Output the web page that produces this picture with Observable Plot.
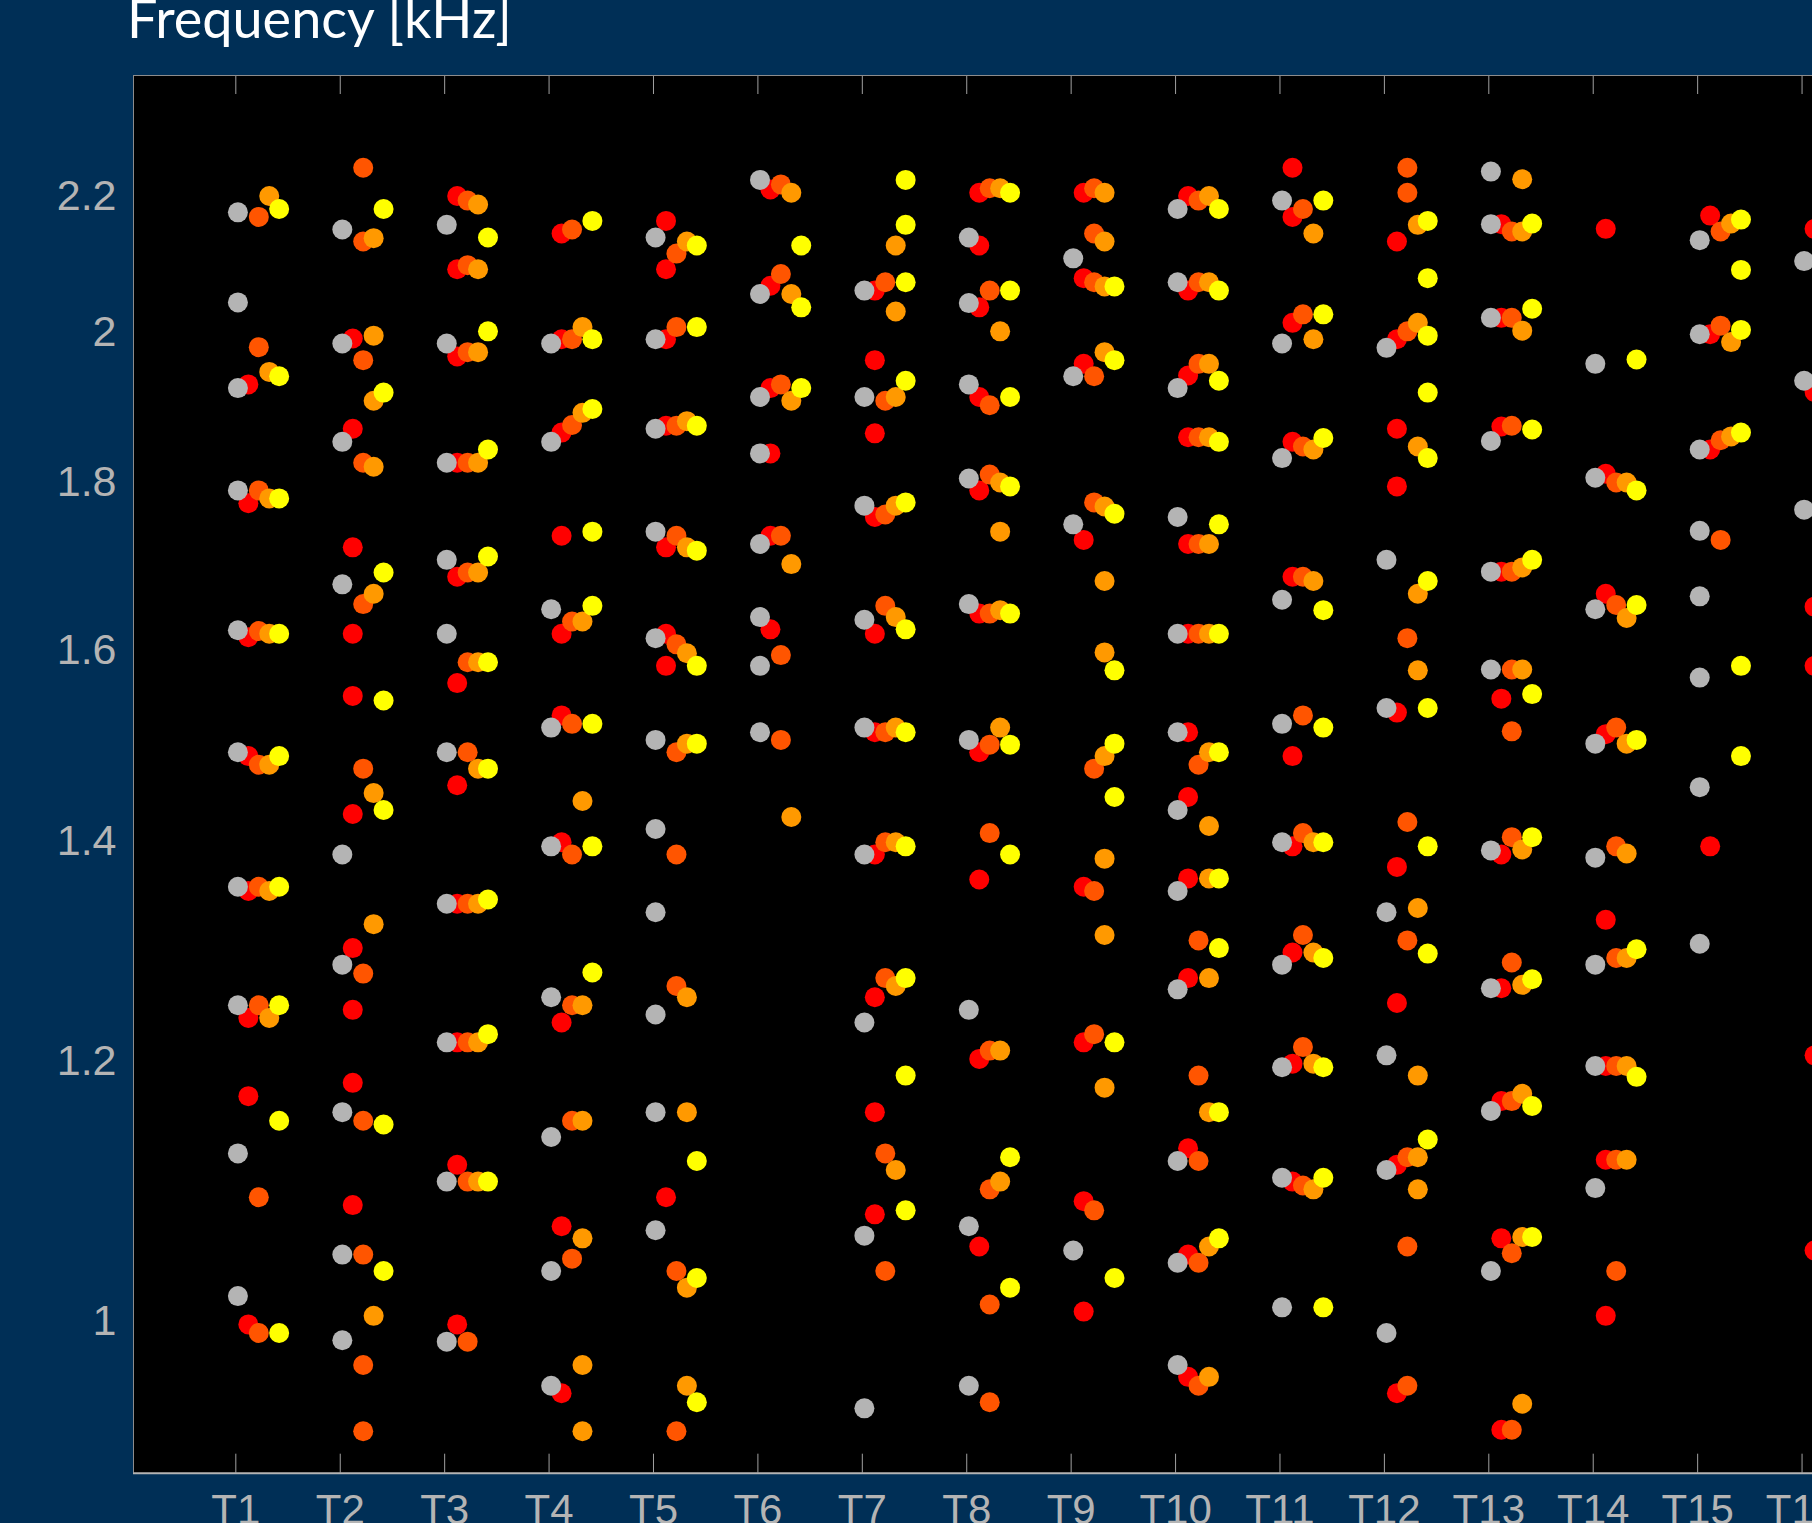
<!DOCTYPE html>
<html><head><meta charset="utf-8">
<script src="https://cdn.jsdelivr.net/npm/d3@7"></script>
<script src="https://cdn.jsdelivr.net/npm/@observablehq/plot@0.6"></script>
<style>
html,body{margin:0;padding:0;background:#002f56;width:1812px;height:1523px;overflow:hidden;}
#wrap{position:relative;width:1812px;height:1523px;}
#chart{position:absolute;left:0;top:0;}
#title{position:absolute;left:0;top:0;}
</style></head><body>
<div id="wrap">
<div id="chart"></div>
<svg id="title" width="760" height="75"><text x="127" y="38" fill="#ffffff" font-family="Lato, 'Open Sans', sans-serif" font-size="54">Frequency [kHz]</text></svg>
</div>
<script>
// Categories (test points)
const categories = ["T1","T2","T3","T4","T5","T6","T7","T8","T9","T10","T11","T12","T13","T14","T15","T16"];
const yTickValues = [1, 1.2, 1.4, 1.6, 1.8, 2, 2.2];

// Frequencies in kHz, one inner list per category
const grey = [
  [2.175, 2.042, 1.923, 1.79, 1.623, 1.49, 1.356, 1.248, 1.125, 1.018],
  [2.149, 1.984, 1.852, 1.676, 1.387, 1.284, 1.158, 1.048, 0.987],
  [2.156, 1.984, 1.825, 1.705, 1.619, 1.49, 1.34, 1.216, 1.103, 0.986],
  [1.984, 1.852, 1.647, 1.516, 1.395, 1.255, 1.138, 1.036, 0.956],
  [2.137, 1.99, 1.869, 1.739, 1.614, 1.503, 1.412, 1.332, 1.24, 1.158, 1.066],
  [2.225, 2.054, 1.911, 1.837, 1.724, 1.638, 1.583, 1.511],
  [2.059, 1.911, 1.771, 1.635, 1.516, 1.387, 1.233, 1.062, 0.941],
  [2.137, 2.041, 1.928, 1.805, 1.653, 1.503, 1.244, 1.069, 0.956],
  [2.106, 1.939, 1.748, 1.051],
  [2.18, 2.071, 1.923, 1.757, 1.619, 1.511, 1.431, 1.352, 1.262, 1.119, 1.042, 0.97],
  [2.193, 1.984, 1.831, 1.658, 1.52, 1.399, 1.284, 1.195, 1.106, 1.01],
  [1.978, 1.705, 1.537, 1.332, 1.205, 1.112, 0.992],
  [2.238, 2.157, 2.02, 1.853, 1.691, 1.579, 1.391, 1.263, 1.159, 1.036],
  [1.956, 1.806, 1.647, 1.499, 1.384, 1.284, 1.196, 1.098],
  [2.133, 1.997, 1.842, 1.74, 1.662, 1.57, 1.454, 1.303],
  [2.102, 1.933, 1.766]
];
const red = [
  [1.928, 1.774, 1.615, 1.486, 1.352, 1.237, 1.171, 0.998],
  [1.991, 1.869, 1.72, 1.619, 1.55, 1.427, 1.299, 1.244, 1.182, 1.085],
  [2.2, 2.09, 1.966, 1.825, 1.685, 1.564, 1.456, 1.34, 1.216, 1.116, 0.998],
  [2.143, 1.99, 1.864, 1.734, 1.619, 1.529, 1.399, 1.233, 1.069, 0.951],
  [2.162, 2.09, 1.99, 1.873, 1.72, 1.619, 1.583, 1.091],
  [2.21, 2.066, 1.923, 1.837, 1.734, 1.624],
  [2.059, 1.961, 1.863, 1.757, 1.619, 1.511, 1.387, 1.255, 1.158, 1.078],
  [2.205, 2.125, 2.035, 1.911, 1.79, 1.642, 1.49, 1.363, 1.202, 1.054],
  [2.205, 2.077, 1.956, 1.729, 1.356, 1.216, 1.088, 1.007],
  [2.2, 2.059, 1.94, 1.858, 1.724, 1.619, 1.511, 1.444, 1.364, 1.272, 1.129, 1.048, 0.962],
  [2.244, 2.168, 2.013, 1.852, 1.685, 1.486, 1.395, 1.295, 1.198, 1.103],
  [2.131, 1.99, 1.869, 1.795, 1.532, 1.375, 1.25, 1.116, 0.951],
  [2.157, 2.02, 1.872, 1.691, 1.547, 1.387, 1.263, 1.167, 1.06, 0.927],
  [2.15, 1.811, 1.665, 1.509, 1.325, 1.196, 1.12, 1.004],
  [2.17, 1.997, 1.842, 1.395],
  [2.15, 1.918, 1.65, 1.583, 1.205, 1.051]
];
const orangeRed = [
  [2.168, 1.979, 1.79, 1.622, 1.477, 1.356, 1.248, 1.091, 0.992],
  [2.244, 2.131, 1.961, 1.825, 1.653, 1.473, 1.276, 1.151, 1.048, 0.97, 0.926],
  [2.193, 2.096, 1.972, 1.825, 1.69, 1.587, 1.49, 1.34, 1.216, 1.103, 0.986],
  [2.149, 1.99, 1.874, 1.633, 1.52, 1.387, 1.248, 1.151, 1.045],
  [2.113, 2.007, 1.873, 1.734, 1.607, 1.49, 1.387, 1.265, 1.036, 0.926],
  [2.218, 2.083, 1.928, 1.734, 1.595, 1.503],
  [2.071, 1.906, 1.76, 1.651, 1.511, 1.399, 1.272, 1.125, 1.036],
  [2.212, 2.059, 1.9, 1.81, 1.642, 1.498, 1.408, 1.209, 1.097, 1.012, 0.945],
  [2.212, 2.143, 2.071, 1.939, 1.775, 1.473, 1.352, 1.223, 1.081],
  [2.193, 2.071, 1.956, 1.858, 1.724, 1.619, 1.477, 1.306, 1.188, 1.119, 1.042, 0.956],
  [2.18, 2.025, 1.846, 1.685, 1.529, 1.408, 1.311, 1.212, 1.10],
  [2.244, 2.205, 2.001, 1.614, 1.419, 1.306, 1.122, 1.054, 0.956],
  [2.146, 2.02, 1.873, 1.691, 1.579, 1.512, 1.404, 1.286, 1.167, 1.049, 0.927],
  [1.80, 1.652, 1.516, 1.395, 1.29, 1.196, 1.12, 1.036],
  [2.146, 2.009, 1.854, 1.729],
  []
];
const orange = [
  [2.2, 1.945, 1.78, 1.619, 1.477, 1.352, 1.237],
  [2.136, 1.995, 1.906, 1.82, 1.665, 1.448, 1.321, 1.004],
  [2.187, 2.09, 1.972, 1.825, 1.69, 1.587, 1.473, 1.34, 1.216, 1.103],
  [2.007, 1.89, 1.633, 1.44, 1.248, 1.151, 1.06, 0.97, 0.926],
  [2.131, 1.879, 1.72, 1.597, 1.499, 1.255, 1.158, 1.024, 0.956],
  [2.205, 2.054, 1.906, 1.70, 1.424],
  [2.125, 2.029, 1.911, 1.771, 1.638, 1.516, 1.399, 1.265, 1.112],
  [2.212, 2.001, 1.80, 1.739, 1.646, 1.516, 1.209, 1.103],
  [2.205, 2.131, 2.065, 1.972, 1.77, 1.68, 1.598, 1.486, 1.383, 1.311, 1.178],
  [2.2, 2.071, 1.956, 1.858, 1.724, 1.619, 1.49, 1.415, 1.364, 1.272, 1.158, 1.054, 0.962],
  [2.143, 1.99, 1.842, 1.68, 1.399, 1.295, 1.198, 1.097],
  [2.156, 2.013, 1.846, 1.665, 1.578, 1.336, 1.188, 1.122, 1.097],
  [2.226, 2.146, 2.002, 1.696, 1.579, 1.392, 1.266, 1.173, 1.061, 0.944],
  [1.80, 1.637, 1.499, 1.388, 1.29, 1.196, 1.12],
  [2.158, 1.986, 1.859],
  []
];
const yellow = [
  [2.18, 1.939, 1.78, 1.619, 1.486, 1.356, 1.248, 1.151, 0.992],
  [2.18, 1.917, 1.69, 1.545, 1.431, 1.148, 1.036],
  [2.137, 2.001, 1.842, 1.709, 1.587, 1.473, 1.344, 1.223, 1.103],
  [2.162, 1.99, 1.895, 1.739, 1.651, 1.52, 1.395, 1.277],
  [2.125, 2.007, 1.873, 1.716, 1.583, 1.499, 1.119, 1.031, 0.945],
  [2.125, 2.035, 1.923],
  [2.225, 2.156, 2.071, 1.933, 1.775, 1.624, 1.511, 1.395, 1.272, 1.188, 1.081],
  [2.205, 2.059, 1.911, 1.795, 1.642, 1.498, 1.387, 1.122, 1.024],
  [2.065, 1.961, 1.761, 1.578, 1.499, 1.444, 1.216, 1.031],
  [2.18, 2.059, 1.933, 1.852, 1.748, 1.619, 1.49, 1.364, 1.299, 1.158, 1.06],
  [2.193, 2.025, 1.857, 1.646, 1.516, 1.399, 1.29, 1.195, 1.106, 1.01],
  [2.162, 2.077, 1.995, 1.917, 1.831, 1.68, 1.537, 1.395, 1.294, 1.136],
  [2.158, 2.033, 1.868, 1.705, 1.552, 1.404, 1.271, 1.163, 1.061],
  [1.962, 1.79, 1.652, 1.503, 1.298, 1.187],
  [2.164, 2.089, 2.003, 1.864, 1.583, 1.486],
  []
];

// Styling / layout configuration (not data)
const seriesStyle = {
  red:       {values: red,       color: "#ff0000", offset: 0.12},
  grey:      {values: grey,      color: "#b4b4b4", offset: 0.02},
  orangeRed: {values: orangeRed, color: "#ff5500", offset: 0.22},
  orange:    {values: orange,    color: "#ff9900", offset: 0.32},
  yellow:    {values: yellow,    color: "#ffff00", offset: 0.415}
};
const drawOrder = ["red", "grey", "orangeRed", "orange", "yellow"];

const W = 1812, H = 1523;
const M = {top: 75, bottom: 50.3, left: 133, right: 0};
const plotH = H - M.top - M.bottom;
const xDomain = [0.02, 16.1];
const yDomain = [0.8992, 2.3938];
const tickIdx = categories.map((c, i) => i + 1);

const rows = [];
for (const name of drawOrder) {
  const s = seriesStyle[name];
  s.values.forEach((vals, i) => vals.forEach(v => rows.push({series: name, x: i + 1 + s.offset, y: v})));
}

const chart = Plot.plot({
  width: W, height: H,
  marginTop: M.top, marginBottom: M.bottom, marginLeft: M.left, marginRight: M.right,
  style: {background: "transparent", color: "#b4b4b4", fontFamily: "'Liberation Sans', Arial, sans-serif", fontSize: "43px", overflow: "visible"},
  x: {domain: xDomain, axis: null},
  y: {type: "log", domain: yDomain, axis: null},
  marks: [
    Plot.frame({fill: "black", stroke: "none"}),
    ...drawOrder.map(name => Plot.dot(rows.filter(r => r.series === name), {x: "x", y: "y", r: 10, fill: seriesStyle[name].color, stroke: "none"})),
    Plot.ruleX(tickIdx, {x: d => d, insetBottom: plotH - 19, stroke: "#a0a0a0"}),
    Plot.ruleX(tickIdx, {x: d => d, insetTop: plotH - 19, stroke: "#a0a0a0"}),
    Plot.ruleY([yDomain[1]], {stroke: "#8c8c8c"}),
    Plot.ruleX([xDomain[0]], {stroke: "#8c8c8c"}),
    Plot.ruleY([yDomain[0]], {stroke: "#b4b4b4", strokeWidth: 2}),
    Plot.axisY({ticks: yTickValues, tickSize: 0, tickPadding: 17, tickFormat: d => String(d), label: null, fill: "#b4b4b4", fontSize: 43}),
    Plot.axisX({ticks: tickIdx, tickSize: 0, tickPadding: 21, tickFormat: d => categories[d - 1], label: null, fill: "#b4b4b4", fontSize: 42})
  ]
});
document.getElementById("chart").appendChild(chart);
</script>
</body></html>
